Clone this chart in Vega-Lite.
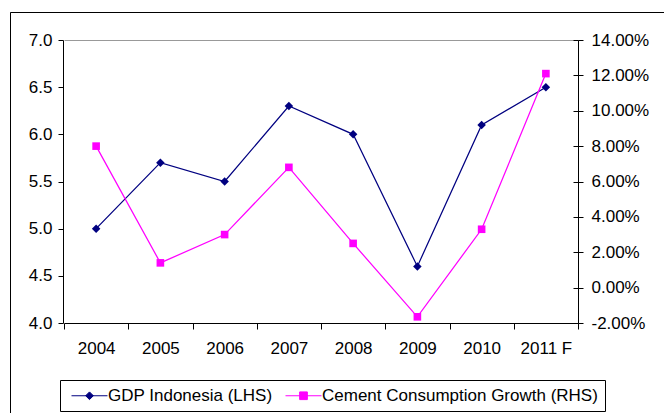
{
  "$schema": "https://vega.github.io/schema/vega-lite/v6.json",
  "width": 654,
  "height": 401,
  "autosize": "none",
  "padding": {"left": 10, "top": 12, "right": 0, "bottom": 0},
  "background": "white",
  "config": {
    "view": {"stroke": "#000000", "strokeWidth": 1, "strokeDash": [654, 1055, 401]},
    "axis": {
      "labelFont": "Liberation Sans",
      "labelFontSize": 17,
      "labelColor": "#000000",
      "domainColor": "#000000",
      "tickColor": "#000000",
      "domainWidth": 1,
      "tickWidth": 1,
      "grid": false,
      "title": null
    },
    "legend": {
      "labelFont": "Liberation Sans",
      "labelFontSize": 17,
      "labelColor": "#000000",
      "labelLimit": 500
    }
  },
  "data": {
    "values": [
      {"year": "2004", "series": "GDP Indonesia (LHS)", "value": 5.0},
      {"year": "2005", "series": "GDP Indonesia (LHS)", "value": 5.7},
      {"year": "2006", "series": "GDP Indonesia (LHS)", "value": 5.5},
      {"year": "2007", "series": "GDP Indonesia (LHS)", "value": 6.3},
      {"year": "2008", "series": "GDP Indonesia (LHS)", "value": 6.0},
      {"year": "2009", "series": "GDP Indonesia (LHS)", "value": 4.6},
      {"year": "2010", "series": "GDP Indonesia (LHS)", "value": 6.1},
      {"year": "2011 F", "series": "GDP Indonesia (LHS)", "value": 6.5},
      {"year": "2004", "series": "Cement Consumption Growth (RHS)", "value": 0.080},
      {"year": "2005", "series": "Cement Consumption Growth (RHS)", "value": 0.014},
      {"year": "2006", "series": "Cement Consumption Growth (RHS)", "value": 0.030},
      {"year": "2007", "series": "Cement Consumption Growth (RHS)", "value": 0.068},
      {"year": "2008", "series": "Cement Consumption Growth (RHS)", "value": 0.025},
      {"year": "2009", "series": "Cement Consumption Growth (RHS)", "value": -0.0165},
      {"year": "2010", "series": "Cement Consumption Growth (RHS)", "value": 0.033},
      {"year": "2011 F", "series": "Cement Consumption Growth (RHS)", "value": 0.121}
    ]
  },
  "encoding": {
    "x": {
      "field": "year",
      "type": "nominal",
      "sort": null,
      "scale": {"type": "band", "range": [54, 568], "paddingInner": 0, "paddingOuter": 0},
      "axis": {
        "orient": "bottom",
        "offset": -90,
        "tickBand": "extent",
        "tickSize": 6,
        "labelPadding": 11,
        "labelAngle": 0,
        "title": null
      }
    }
  },
  "layer": [
    {
      "transform": [{"filter": "datum.series === 'GDP Indonesia (LHS)'"}],
      "encoding": {
        "y": {
          "field": "value",
          "type": "quantitative",
          "scale": {"domain": [4, 7], "range": [311, 28], "nice": false, "zero": false},
          "axis": {
            "orient": "left",
            "offset": -53,
            "values": [4, 4.5, 5, 5.5, 6, 6.5, 7],
            "format": ".1f",
            "tickSize": 5,
            "labelPadding": 6,
            "grid": true,
            "gridColor": "#999999",
            "gridWidth": 1,
            "gridOpacity": {"condition": {"test": "datum.value === 7", "value": 1}, "value": 0},
            "title": null
          }
        },
        "color": {
          "field": "series",
          "type": "nominal",
          "scale": {
            "domain": ["GDP Indonesia (LHS)", "Cement Consumption Growth (RHS)"],
            "range": ["#000080", "#FF00FF"]
          },
          "legend": {
            "orient": "none",
            "legendX": 50,
            "legendY": 368,
            "direction": "horizontal",
            "columns": 2,
            "title": null,
            "strokeColor": "#000000",
            "fillColor": "#FFFFFF",
            "padding": 7,
            "symbolSize": 49,
            "symbolStrokeWidth": 1,
            "symbolOpacity": 1,
            "symbolOffset": 14,
            "labelOffset": 10,
            "columnPadding": 8,
            "encode": {
              "symbols": {
                "update": {
                  "shape": {"signal": "datum.value === 'GDP Indonesia (LHS)' ? 'M-5.14,0H5.14M0,-1.1L1.1,0L0,1.1L-1.1,0Z' : 'M-5.14,0H5.14M-1.1,-1.1H1.1V1.1H-1.1Z'"},
                  "fill": {"signal": "scale('color', datum.value)"},
                  "stroke": {"signal": "scale('color', datum.value)"},
                  "strokeWidth": {"value": 1},
                  "opacity": {"value": 1}
                }
              }
            }
          }
        }
      },
      "layer": [
        {"mark": {"type": "line", "strokeWidth": 1.25}},
        {"mark": {"type": "point", "shape": "diamond", "filled": true, "opacity": 1, "size": 72}}
      ]
    },
    {
      "transform": [{"filter": "datum.series === 'Cement Consumption Growth (RHS)'"}],
      "mark": {"type": "line", "strokeWidth": 1.25},
      "encoding": {
        "y": {
          "field": "value",
          "type": "quantitative",
          "scale": {"domain": [-0.02, 0.14], "range": [311, 28], "nice": false, "zero": false},
          "axis": {
            "orient": "right",
            "offset": -86,
            "values": [-0.02, 0, 0.02, 0.04, 0.06, 0.08, 0.1, 0.12, 0.14],
            "labelExpr": "replace(format(datum.value, '.2%'), '\u2212', '-')",
            "tickSize": 5,
            "labelPadding": 8,
            "title": null
          }
        },
        "color": {"field": "series", "type": "nominal"}
      }
    },
    {
      "transform": [{"filter": "datum.series === 'Cement Consumption Growth (RHS)'"}],
      "mark": {"type": "point", "shape": "square", "filled": true, "opacity": 1, "size": 58},
      "encoding": {
        "y": {
          "field": "value",
          "type": "quantitative",
          "scale": {"domain": [-0.02, 0.14], "range": [311, 28], "nice": false, "zero": false},
          "axis": {
            "orient": "right",
            "offset": -91,
            "values": [-0.02, 0, 0.02, 0.04, 0.06, 0.08, 0.1, 0.12, 0.14],
            "labels": false,
            "domain": false,
            "tickSize": 5,
            "title": null
          }
        },
        "color": {"field": "series", "type": "nominal"}
      }
    }
  ],
  "resolve": {"scale": {"y": "independent"}}
}
